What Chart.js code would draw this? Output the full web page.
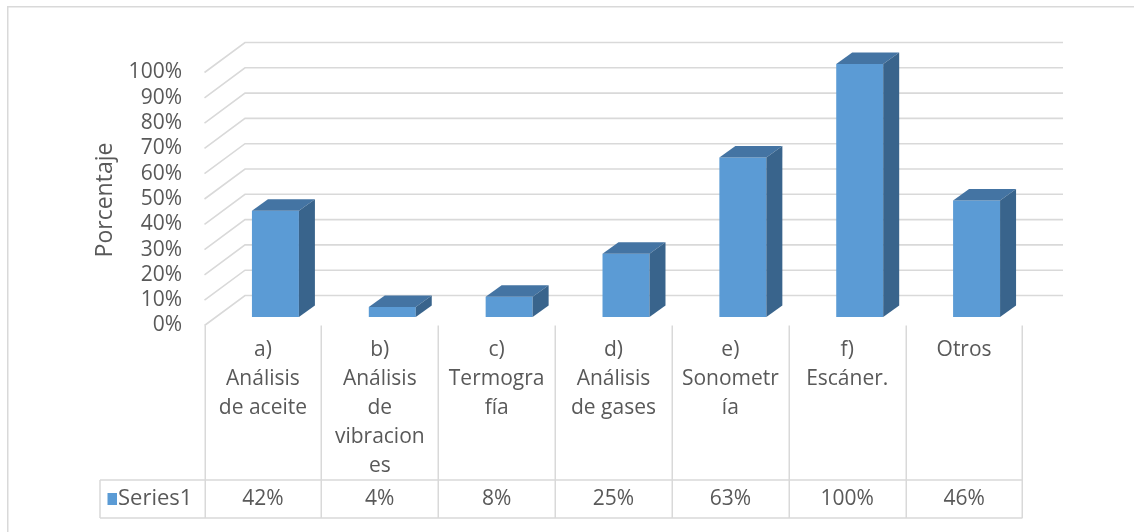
<!DOCTYPE html>
<html>
<head>
<meta charset="utf-8">
<script src="https://cdn.jsdelivr.net/npm/chart.js@4.4.0/dist/chart.umd.min.js"></script>
<style>
  html, body { margin: 0; padding: 0; background: #ffffff; }
  canvas { display: block; }
</style>
</head>
<body>
<canvas id="chart" width="1134" height="532"></canvas>
<script>
// Categories (already wrapped into the lines shown in the table cells)
const categories = [
  ['a)', 'Análisis', 'de aceite'],
  ['b)', 'Análisis', 'de', 'vibracion', 'es'],
  ['c)', 'Termogra', 'fía'],
  ['d)', 'Análisis', 'de gases'],
  ['e)', 'Sonometr', 'ía'],
  ['f)', 'Escáner.'],
  ['Otros']
];
const seriesName = 'Series1';
const values = [42, 4, 8, 25, 63, 100, 46];
const yTickValues = [0, 10, 20, 30, 40, 50, 60, 70, 80, 90, 100];
const axisTitle = 'Porcentaje';

const FONT = '"Open Sans", "Liberation Sans", sans-serif';
const TEXT = '#595959';
const LINE = '#d9d9d9';
const FRONT_COLOR = '#5b9bd5';
const TOP_COLOR = '#4474a3';
const SIDE_COLOR = '#39648c';

// Pseudo-3D offsets relative to the plane the bars stand in
const FRONT = { dx: -12.5, dy: 8.5 };   // front edge of the floor
const BACK = { dx: 28, dy: -21.5 };     // back wall
const DEPTH = { dx: 16, dy: -11.5 };    // bar depth

const pct = v => v + '%';

const decorations = {
  id: 'decorations',
  beforeDraw(chart) {
    const ctx = chart.ctx;
    ctx.save();
    ctx.strokeStyle = LINE;
    ctx.lineWidth = 1.5;
    ctx.strokeRect(7.75, 6.75, 1200, 600);
    ctx.restore();
  },
  beforeDatasetsDraw(chart) {
    const { ctx, chartArea: a, scales: { y } } = chart;
    ctx.save();
    ctx.strokeStyle = LINE;
    ctx.lineWidth = 1.6;
    yTickValues.forEach(v => {
      const py = y.getPixelForValue(v);
      ctx.beginPath();
      ctx.moveTo(a.left + FRONT.dx, py + FRONT.dy);
      ctx.lineTo(a.left + BACK.dx, py + BACK.dy);
      ctx.lineTo(a.right + BACK.dx, py + BACK.dy);
      ctx.stroke();
    });
    ctx.restore();
  },
  afterDatasetsDraw(chart) {
    const ctx = chart.ctx;
    const meta = chart.getDatasetMeta(0);
    ctx.save();
    meta.data.forEach(bar => {
      const { x, y, base, width } = bar.getProps(['x', 'y', 'base', 'width'], true);
      const l = x - width / 2, r = x + width / 2;
      // top face
      ctx.fillStyle = TOP_COLOR;
      ctx.beginPath();
      ctx.moveTo(l, y);
      ctx.lineTo(l + DEPTH.dx, y + DEPTH.dy);
      ctx.lineTo(r + DEPTH.dx, y + DEPTH.dy);
      ctx.lineTo(r, y);
      ctx.closePath();
      ctx.fill();
      // side face
      ctx.fillStyle = SIDE_COLOR;
      ctx.beginPath();
      ctx.moveTo(r, y);
      ctx.lineTo(r + DEPTH.dx, y + DEPTH.dy);
      ctx.lineTo(r + DEPTH.dx, base + DEPTH.dy);
      ctx.lineTo(r, base);
      ctx.closePath();
      ctx.fill();
    });
    ctx.restore();
  },
  afterDraw(chart) {
    const { ctx, chartArea: a, scales: { x } } = chart;
    const slot = x.getPixelForValue(1) - x.getPixelForValue(0);
    const tableTop = a.bottom + FRONT.dy;
    const rowTop = 480, rowBottom = 518, legendLeft = 100;
    const firstLeft = x.getPixelForValue(0) + FRONT.dx - slot / 2;
    const lastRight = x.getPixelForValue(categories.length - 1) + FRONT.dx + slot / 2;

    ctx.save();
    ctx.strokeStyle = LINE;
    ctx.lineWidth = 1.5;
    // column separators
    for (let i = 0; i <= categories.length; i++) {
      const cx = Math.round(firstLeft + i * slot) + 0.25;
      ctx.beginPath();
      ctx.moveTo(cx, tableTop);
      ctx.lineTo(cx, rowBottom);
      ctx.stroke();
    }
    // series row
    ctx.beginPath();
    ctx.moveTo(legendLeft, rowTop); ctx.lineTo(lastRight, rowTop);
    ctx.moveTo(legendLeft, rowBottom); ctx.lineTo(lastRight, rowBottom);
    ctx.moveTo(legendLeft, rowTop); ctx.lineTo(legendLeft, rowBottom);
    ctx.stroke();

    // category labels and values
    ctx.fillStyle = TEXT;
    ctx.font = '21px ' + FONT;
    ctx.textAlign = 'center';
    ctx.textBaseline = 'middle';
    categories.forEach((lines, i) => {
      const cx = x.getPixelForValue(i) + FRONT.dx;
      lines.forEach((t, k) => ctx.fillText(t, cx, 350 + k * 29));
      ctx.fillText(pct(values[i]), cx, (rowTop + rowBottom) / 2);
    });

    // legend key + series name
    ctx.fillStyle = FRONT_COLOR;
    ctx.fillRect(107.5, 493, 9.5, 12);
    ctx.fillStyle = TEXT;
    ctx.textAlign = 'left';
    ctx.font = '22px ' + FONT;
    ctx.fillText(seriesName, 118, (rowTop + rowBottom) / 2);

    // axis title
    ctx.save();
    ctx.translate(105, 200);
    ctx.rotate(-Math.PI / 2);
    ctx.textAlign = 'center';
    ctx.font = '23px ' + FONT;
    ctx.fillText(axisTitle, 0, 0);
    ctx.restore();
    ctx.restore();
  }
};

new Chart(document.getElementById('chart'), {
  type: 'bar',
  data: {
    labels: categories,
    datasets: [{
      label: seriesName,
      data: values,
      backgroundColor: FRONT_COLOR,
      borderWidth: 0,
      categoryPercentage: 1,
      barPercentage: 0.402
    }]
  },
  options: {
    responsive: false,
    animation: false,
    devicePixelRatio: 1,
    layout: { padding: { left: 0, right: 99, top: 64, bottom: 215 } },
    plugins: { legend: { display: false }, tooltip: { enabled: false } },
    scales: {
      x: { display: false },
      y: {
        min: 0,
        max: 100,
        afterFit(scale) { scale.width = 217; },
        afterBuildTicks(scale) { scale.ticks = yTickValues.map(v => ({ value: v })); },
        grid: { display: false, drawTicks: false },
        border: { display: false },
        ticks: {
          autoSkip: false,
          padding: 35,
          labelOffset: 8.5,
          color: TEXT,
          font: { family: FONT, size: 21 },
          callback: v => pct(v)
        }
      }
    }
  },
  plugins: [decorations]
});
</script>
</body>
</html>
